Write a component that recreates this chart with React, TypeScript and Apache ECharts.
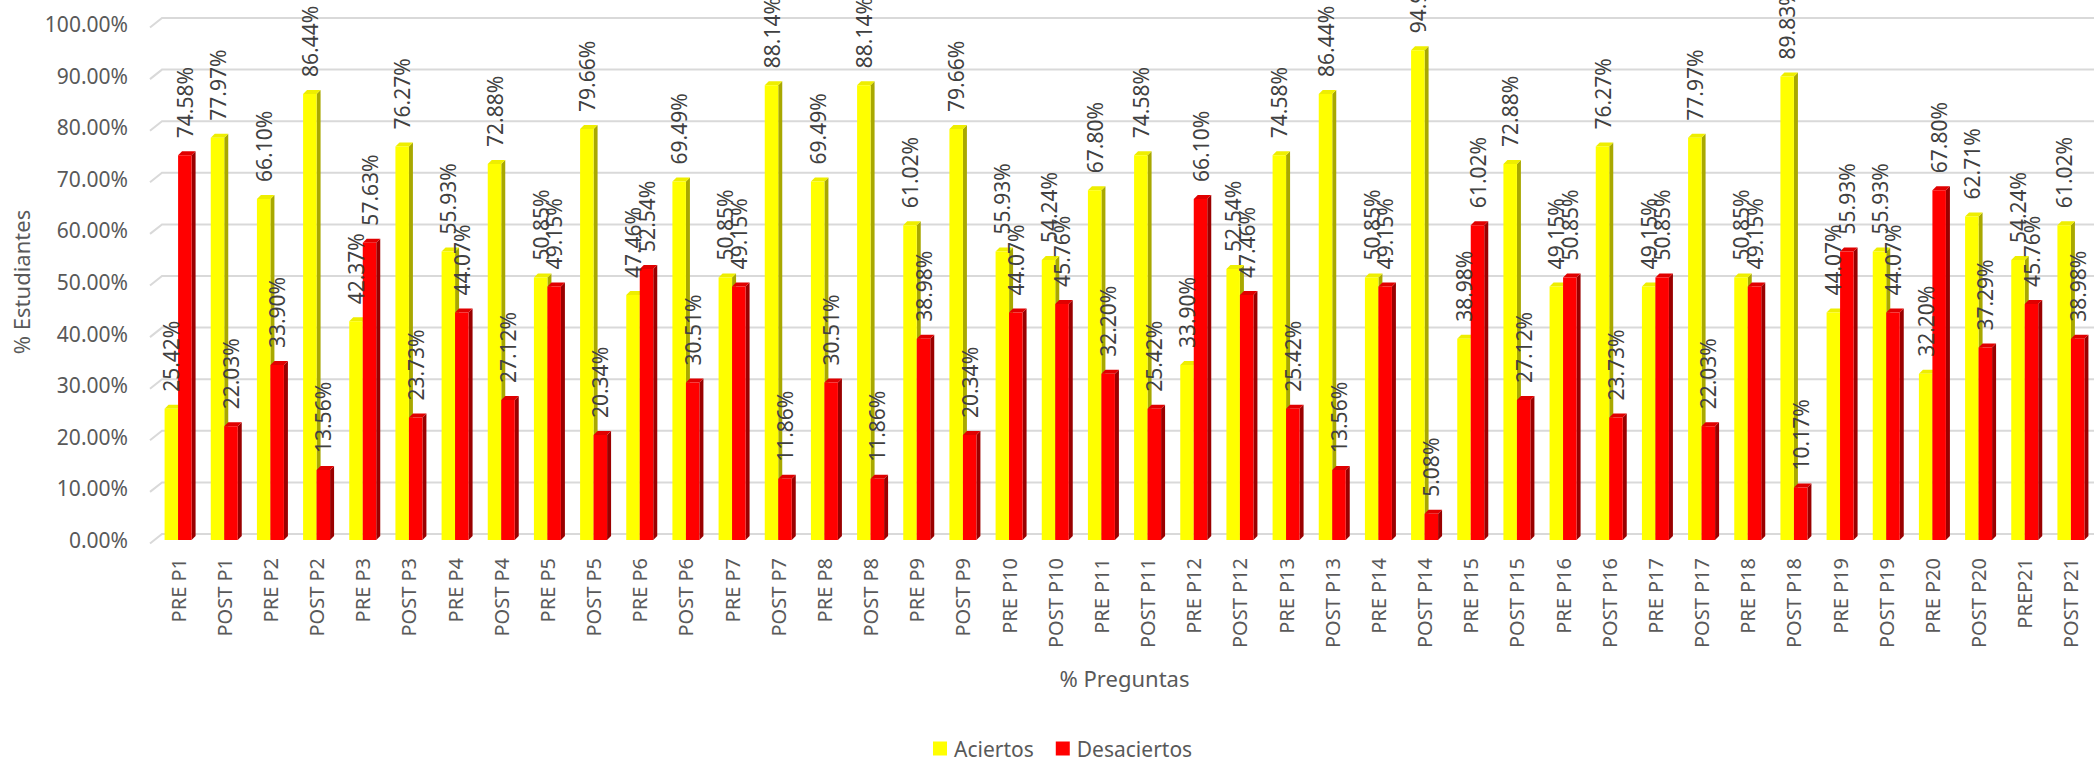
import React, { useEffect, useRef } from "react";
import * as echarts from "echarts";

const categories = [
  "PRE P1", "POST P1", "PRE P2", "POST P2", "PRE P3", "POST P3", "PRE P4", "POST P4",
  "PRE P5", "POST P5", "PRE P6", "POST P6", "PRE P7", "POST P7", "PRE P8", "POST P8",
  "PRE P9", "POST P9", "PRE P10", "POST P10", "PRE P11", "POST P11", "PRE P12", "POST P12",
  "PRE P13", "POST P13", "PRE P14", "POST P14", "PRE P15", "POST P15", "PRE P16", "POST P16",
  "PRE P17", "POST P17", "PRE P18", "POST P18", "PRE P19", "POST P19", "PRE P20", "POST P20",
  "PREP21", "POST P21",
];

const aciertos = [
  25.42, 77.97, 66.10, 86.44, 42.37, 76.27, 55.93, 72.88,
  50.85, 79.66, 47.46, 69.49, 50.85, 88.14, 69.49, 88.14,
  61.02, 79.66, 55.93, 54.24, 67.80, 74.58, 33.90, 52.54,
  74.58, 86.44, 50.85, 94.92, 38.98, 72.88, 49.15, 76.27,
  49.15, 77.97, 50.85, 89.83, 44.07, 55.93, 32.20, 62.71,
  54.24, 61.02,
];

const desaciertos = [
  74.58, 22.03, 33.90, 13.56, 57.63, 23.73, 44.07, 27.12,
  49.15, 20.34, 52.54, 30.51, 49.15, 11.86, 30.51, 11.86,
  38.98, 20.34, 44.07, 45.76, 32.20, 25.42, 66.10, 47.46,
  25.42, 13.56, 49.15, 5.08, 61.02, 27.12, 50.85, 23.73,
  50.85, 22.03, 49.15, 10.17, 55.93, 44.07, 67.80, 37.29,
  45.76, 38.98,
];

const yTicks = [0, 10, 20, 30, 40, 50, 60, 70, 80, 90, 100];

const FONT = '"Noto Sans", "Open Sans", sans-serif';
const BW = 13.5;
const DX = 4;
const DY = 4;

function barRenderer(side: number, front: string, topC: string, sideC: string) {
  return (params: any, api: any) => {
    const idx = api.value(0);
    const v = api.value(1);
    const top = api.coord([idx, v]);
    const base = api.coord([idx, 0]);
    const cx = top[0];
    const x0 = side < 0 ? cx - BW : cx;
    const x1 = x0 + BW;
    const yT = top[1];
    const yB = base[1];
    return {
      type: "group",
      children: [
        {
          type: "polygon",
          shape: { points: [[x1, yT], [x1 + DX, yT - DY], [x1 + DX, yB - DY], [x1, yB]] },
          style: { fill: sideC },
        },
        {
          type: "polygon",
          shape: { points: [[x0, yT], [x0 + DX, yT - DY], [x1 + DX, yT - DY], [x1, yT]] },
          style: { fill: topC },
        },
        {
          type: "rect",
          shape: { x: x0, y: yT, width: BW, height: yB - yT },
          style: { fill: front },
        },
        {
          type: "text",
          x: (x0 + x1) / 2,
          y: yT - 17,
          rotation: Math.PI / 2,
          z2: 100,
          style: {
            text: v.toFixed(2) + "%",
            fill: "#404040",
            fontSize: 21,
            fontFamily: FONT,
            align: "left",
            verticalAlign: "middle",
          },
        },
      ],
    };
  };
}

function gridRenderer(params: any, api: any) {
  const v = api.value(1);
  const p = api.coord([0, v]);
  const left = params.coordSys.x;
  const y = p[1];
  return {
    type: "polyline",
    shape: {
      points: [
        [left - 5, y + 3.5],
        [left + 7, y - 6],
        [2094, y - 6],
      ],
    },
    style: { stroke: "#d9d9d9", lineWidth: 2, fill: "none" },
  };
}

export default function App() {
  const ref = useRef<HTMLDivElement>(null);
  useEffect(() => {
    document.body.style.margin = "0";
    if (!ref.current) return;
    const chart = echarts.init(ref.current, null, { renderer: "svg" });
    chart.setOption({
      animation: false,
      textStyle: { fontFamily: FONT },
      grid: { left: 155, width: 1943, top: 24, bottom: 223, containLabel: false },
      legend: {
        data: ["Aciertos", "Desaciertos"],
        left: 928,
        top: 733,
        icon: "rect",
        itemWidth: 14,
        itemHeight: 14,
        itemGap: 22,
        textStyle: { fontSize: 21, color: "#595959", fontFamily: FONT, padding: [0, 0, 0, 2] },
      },
      xAxis: {
        type: "category",
        data: categories,
        boundaryGap: true,
        axisLine: { show: false },
        axisTick: { show: false },
        axisLabel: {
          interval: 0,
          rotate: 90,
          margin: 18,
          fontSize: 20,
          color: "#595959",
          fontFamily: FONT,
        },
        name: "% Preguntas",
        nameLocation: "middle",
        nameGap: 127,
        nameTextStyle: { fontSize: 22, color: "#595959", fontFamily: FONT },
      },
      yAxis: {
        type: "value",
        min: 0,
        max: 100,
        interval: 10,
        axisLine: { show: false },
        axisTick: { show: false },
        splitLine: { show: false },
        axisLabel: {
          margin: 27,
          fontSize: 21,
          color: "#595959",
          fontFamily: FONT,
          padding: [6, 0, 0, 0],
          formatter: (v: number) => v.toFixed(2) + "%",
        },
        name: "% Estudiantes",
        nameLocation: "middle",
        nameGap: 123,
        nameTextStyle: { fontSize: 22, color: "#595959", fontFamily: FONT },
      },
      series: [
        {
          type: "custom",
          name: "grid",
          silent: true,
          clip: false,
          z: 1,
          data: yTicks.map((t) => [0, t]),
          encode: { x: 0, y: 1 },
          renderItem: gridRenderer,
        },
        {
          type: "custom",
          name: "Aciertos",
          clip: false,
          z: 2,
          itemStyle: { color: "#FFFF00" },
          data: aciertos.map((v, i) => [i, v]),
          encode: { x: 0, y: 1 },
          renderItem: barRenderer(-1, "#FFFF00", "#EEEE00", "#A8A800"),
        },
        {
          type: "custom",
          name: "Desaciertos",
          clip: false,
          z: 2,
          itemStyle: { color: "#FF0000" },
          data: desaciertos.map((v, i) => [i, v]),
          encode: { x: 0, y: 1 },
          renderItem: barRenderer(1, "#FF0000", "#E00000", "#9A0000"),
        },
      ],
    });
    return () => chart.dispose();
  }, []);
  return <div ref={ref} style={{ width: 2094, height: 763 }} />;
}
